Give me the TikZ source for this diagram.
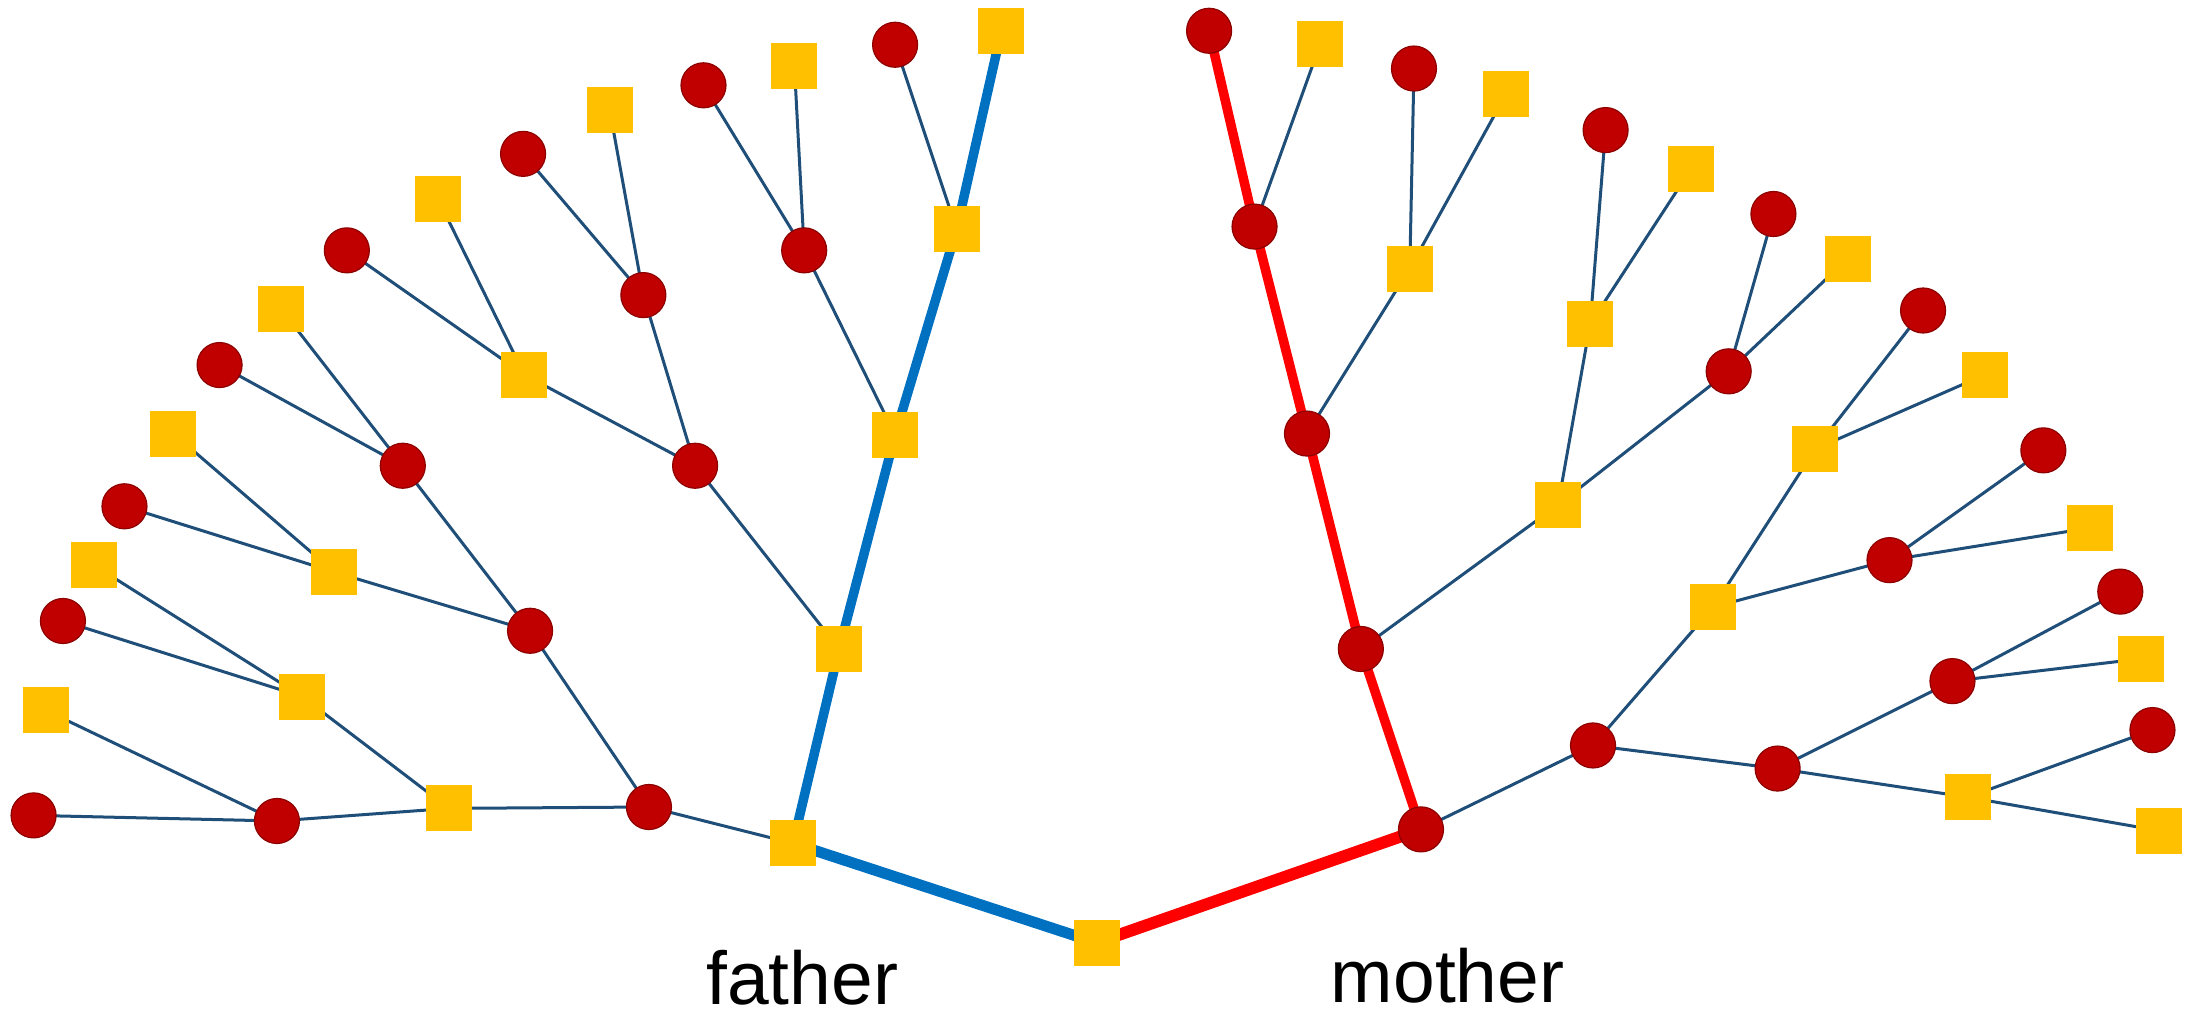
\documentclass[tikz,border=0pt]{standalone}
\usepackage{fontspec}
\setmainfont{Liberation Sans}
\pgfdeclarelayer{bg}
\pgfsetlayers{bg,main}
\definecolor{femfill}{HTML}{C00000}
\definecolor{femdraw}{HTML}{8C0000}
\definecolor{malfill}{HTML}{FFC000}
\definecolor{linkc}{HTML}{1F4E79}
\definecolor{patc}{HTML}{0070C0}
\definecolor{matc}{HTML}{FF0000}
\begin{document}
\begin{tikzpicture}[x=1.3986pt,y=-1.3986pt,
  fe/.style={circle,fill=femfill,draw=femdraw,line width=1.2pt,minimum size=45pt,inner sep=0pt},
  ma/.style={rectangle,fill=malfill,minimum size=46pt,inner sep=0pt},
  link/.style={draw=linkc,line width=3pt},
  patline/.style={draw=patc,line width=9.5pt},
  matline/.style={draw=matc,line width=9.5pt},
  lbl/.style={anchor=base,font=\fontsize{75}{80}\selectfont,text=black,inner sep=0pt}]
\useasboundingbox (0,0) rectangle (1568,727);
% root
\node[ma] (r) at (784,674) {};
% father side
\node[ma] (f) at (567,603) {};
\node[ma] (ff) at (600,464) {};
\node[ma] (fff) at (640,311) {};
\node[ma] (ffff) at (684,164) {};
\node[ma] (fffff) at (716,22) {};
\node[fe] (ffffm) at (640,32) {};
\node[fe] (fffm) at (575,179) {};
\node[ma] (fffmf) at (568,47) {};
\node[fe] (fffmm) at (503,61) {};
\node[fe] (ffm) at (497,333) {};
\node[ma] (ffmf) at (375,268) {};
\node[ma] (ffmff) at (313,142) {};
\node[fe] (ffmfm) at (248,179) {};
\node[fe] (ffmm) at (460,211) {};
\node[ma] (ffmmf) at (436,79) {};
\node[fe] (ffmmm) at (374,110) {};
\node[fe] (fm) at (464,577) {};
\node[ma] (fmf) at (321,578) {};
\node[ma] (fmff) at (216,498) {};
\node[ma] (fmfff) at (67,404) {};
\node[fe] (fmffm) at (45,444) {};
\node[fe] (fmfm) at (198,587) {};
\node[ma] (fmfmf) at (33,508) {};
\node[fe] (fmfmm) at (24,583) {};
\node[fe] (fmm) at (379,451) {};
\node[ma] (fmmf) at (239,409) {};
\node[ma] (fmmff) at (124,310) {};
\node[fe] (fmmfm) at (89,362) {};
\node[fe] (fmmm) at (288,333) {};
\node[ma] (fmmmf) at (201,221) {};
\node[fe] (fmmmm) at (157,261) {};
% mother side
\node[fe] (m) at (1016,593) {};
\node[fe] (mm) at (973,464) {};
\node[fe] (mmm) at (934.5,310) {};
\node[fe] (mmmm) at (897,162) {};
\node[fe] (mmmmm) at (864.5,22) {};
\node[ma] (mmmmf) at (944,31.5) {};
\node[ma] (mmmf) at (1008,192) {};
\node[fe] (mmmff) at (1011,49) {};
\node[ma] (mmmfm) at (1077,67) {};
\node[ma] (mmf) at (1114,361) {};
\node[ma] (mmff) at (1137,231.5) {};
\node[fe] (mmfff) at (1148,93) {};
\node[ma] (mmffm) at (1209,121) {};
\node[fe] (mmfm) at (1236,265.5) {};
\node[fe] (mmfmf) at (1268,153) {};
\node[ma] (mmfmm) at (1321,185) {};
\node[fe] (mf) at (1139,533) {};
\node[ma] (mff) at (1225,434) {};
\node[ma] (mfff) at (1298,321) {};
\node[fe] (mffff) at (1375,222) {};
\node[ma] (mfffm) at (1419,268) {};
\node[fe] (mffm) at (1351,400.5) {};
\node[fe] (mffmf) at (1461,322) {};
\node[ma] (mffmm) at (1494,377.5) {};
\node[fe] (mfm) at (1271,549.5) {};
\node[fe] (mfmf) at (1396,487) {};
\node[fe] (mfmff) at (1516,423) {};
\node[ma] (mfmfm) at (1531,471) {};
\node[ma] (mfmm) at (1407,570) {};
\node[fe] (mfmmf) at (1539,522) {};
\node[ma] (mfmmm) at (1544,594) {};
% labels
\node[lbl] (tf) at (573.5,718) {father};
\node[lbl] (tm) at (1035,717) {mother};
\begin{pgfonlayer}{bg}
% thin links, father side
\foreach \a/\b in {f/fm, ff/ffm, fff/fffm, ffff/ffffm,
  fffm/fffmf, fffm/fffmm, ffm/ffmf, ffm/ffmm, ffmf/ffmff, ffmf/ffmfm,
  ffmm/ffmmf, ffmm/ffmmm, fm/fmf, fm/fmm, fmf/fmff, fmf/fmfm,
  fmff/fmfff, fmff/fmffm, fmfm/fmfmf, fmfm/fmfmm, fmm/fmmf, fmm/fmmm,
  fmmf/fmmff, fmmf/fmmfm, fmmm/fmmmf, fmmm/fmmmm}
  \draw[link] (\a.center) -- (\b.center);
% thin links, mother side
\foreach \a/\b in {m/mf, mm/mmf, mmm/mmmf, mmmm/mmmmf,
  mmmf/mmmff, mmmf/mmmfm, mmf/mmff, mmf/mmfm, mmff/mmfff, mmff/mmffm,
  mmfm/mmfmf, mmfm/mmfmm, mf/mff, mf/mfm, mff/mfff, mff/mffm,
  mfff/mffff, mfff/mfffm, mffm/mffmf, mffm/mffmm, mfm/mfmf, mfm/mfmm,
  mfmf/mfmff, mfmf/mfmfm, mfmm/mfmmf, mfmm/mfmmm}
  \draw[link] (\a.center) -- (\b.center);
% paternal line
\draw[patline,line width=11pt] (r.center) -- (f.center);
\draw[patline] (f.center) -- (ff.center) -- (fff.center) -- (ffff.center) -- (fffff.center);
% maternal line
\draw[matline,line width=12pt] (r.center) -- (m.center);
\draw[matline] (m.center) -- (mm.center) -- (mmm.center) -- (mmmm.center) -- (mmmmm.center);
\end{pgfonlayer}
\end{tikzpicture}
\end{document}
